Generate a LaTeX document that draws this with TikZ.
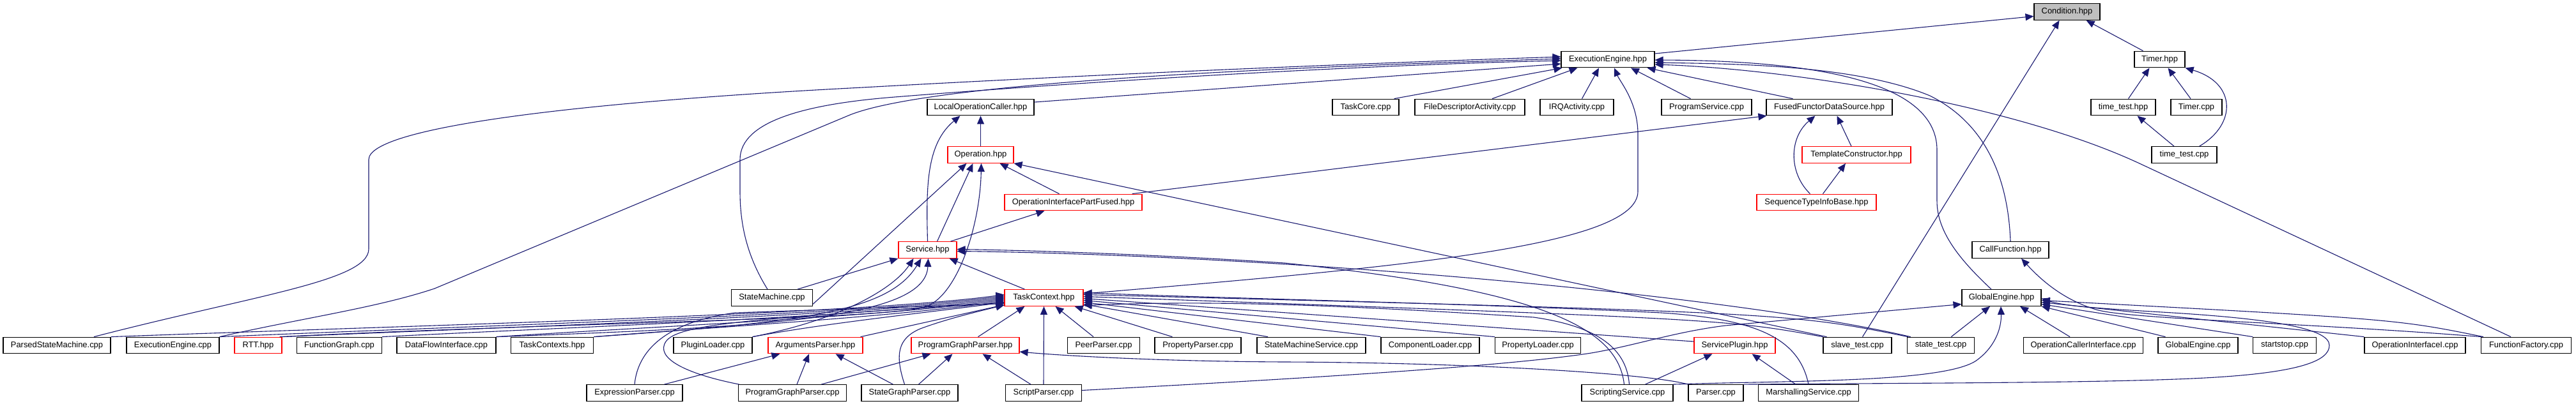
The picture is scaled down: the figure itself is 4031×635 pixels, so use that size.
\documentclass[tikz,border=0pt]{standalone}
\usepackage{fontspec}
\setmainfont{Liberation Sans}
\usetikzlibrary{arrows.meta,calc}
\definecolor{edgec}{RGB}{25,25,112}
\definecolor{redc}{RGB}{255,0,0}
\definecolor{grayc}{RGB}{191,191,191}
\begin{document}
\begin{tikzpicture}[x=1pt,y=-1pt,
  nbox/.style={draw=black, line width=1.1pt, minimum height=25.7pt, inner sep=0pt, fill=white, font=\fontsize{12.9}{15}\selectfont},
  rbox/.style={nbox, draw=redc},
  dep/.style={draw=edgec, line width=1.1pt, -{Triangle[length=13pt,width=11pt]}}]
\useasboundingbox (0,0) rectangle (4031,635);
% ---- nodes ----
\node[nbox, fill=grayc, minimum width=103pt] (cond) at (3234.5,18.5) {Condition.hpp};
\node[nbox, minimum width=79pt] (timerh) at (3379.5,93) {Timer.hpp};
\node[nbox, minimum width=146pt] (eeh) at (2516,93) {ExecutionEngine.hpp};
\node[nbox, minimum width=104pt] (taskcore) at (2137,168) {TaskCore.cpp};
\node[nbox, minimum width=172pt] (fdact) at (2300,168) {FileDescriptorActivity.cpp};
\node[nbox, minimum width=115pt] (irq) at (2467.5,168) {IRQActivity.cpp};
\node[nbox, minimum width=141pt] (progsvc) at (2670.5,168) {ProgramService.cpp};
\node[nbox, minimum width=197pt] (ffds) at (2862.5,168) {FusedFunctorDataSource.hpp};
\node[nbox, minimum width=101pt] (tthpp) at (3322.5,168) {time\_test.hpp};
\node[nbox, minimum width=80pt] (timercpp) at (3437,168) {Timer.cpp};
\node[nbox, minimum width=167pt] (loc) at (1534.5,168) {LocalOperationCaller.hpp};
\node[rbox, minimum width=103pt] (op) at (1534.5,242.5) {Operation.hpp};
\node[rbox, minimum width=170pt] (tmplc) at (2905,242.5) {TemplateConstructor.hpp};
\node[nbox, minimum width=102pt] (ttcpp) at (3418,242.5) {time\_test.cpp};
\node[rbox, minimum width=215pt] (opipf) at (1679.5,317) {OperationInterfacePartFused.hpp};
\node[rbox, minimum width=187pt] (stib) at (2842.5,317) {SequenceTypeInfoBase.hpp};
\node[rbox, minimum width=91pt] (svc) at (1451.5,391.5) {Service.hpp};
\node[nbox, minimum width=120pt] (callf) at (3146,391.5) {CallFunction.hpp};
\node[rbox, minimum width=123pt] (tc) at (1633.5,466.5) {TaskContext.hpp};
\node[nbox, minimum width=127pt] (sm) at (1208,466.5) {StateMachine.cpp};
\node[nbox, minimum width=124pt] (ge) at (3132,466.5) {GlobalEngine.hpp};
% row 7
\node[nbox, minimum width=168pt] (psm) at (89,541) {ParsedStateMachine.cpp};
\node[nbox, minimum width=145pt] (eecpp) at (270.5,541) {ExecutionEngine.cpp};
\node[rbox, minimum width=74pt] (rtt) at (404,541) {RTT.hpp};
\node[nbox, minimum width=132.5pt] (fg) at (531,541) {FunctionGraph.cpp};
\node[nbox, minimum width=155pt] (dfi) at (698.5,541) {DataFlowInterface.cpp};
\node[nbox, minimum width=129.5pt] (tcs) at (864,541) {TaskContexts.hpp};
\node[nbox, minimum width=123pt] (pl) at (1115.5,541) {PluginLoader.cpp};
\node[rbox, minimum width=148pt] (ap) at (1276,541) {ArgumentsParser.hpp};
\node[rbox, minimum width=169pt] (pgph) at (1510.5,541) {ProgramGraphParser.hpp};
\node[nbox, minimum width=112.5pt] (pp) at (1727,541) {PeerParser.cpp};
\node[nbox, minimum width=135pt] (propp) at (1874.5,541) {PropertyParser.cpp};
\node[nbox, minimum width=170pt] (sms) at (2052,541) {StateMachineService.cpp};
\node[nbox, minimum width=154pt] (cl) at (2238,541) {ComponentLoader.cpp};
\node[nbox, minimum width=134pt] (propl) at (2406.6,541) {PropertyLoader.cpp};
\node[rbox, minimum width=127pt] (splug) at (2714.5,541) {ServicePlugin.hpp};
\node[nbox, minimum width=107pt] (slave) at (2906.5,541) {slave\_test.cpp};
\node[nbox, minimum width=105.5pt] (state) at (3037,541) {state\_test.cpp};
\node[nbox, minimum width=187.5pt] (oci) at (3260,541) {OperationCallerInterface.cpp};
\node[nbox, minimum width=125pt] (gecpp) at (3439.5,541) {GlobalEngine.cpp};
\node[nbox, minimum width=98.5pt] (ss) at (3575,541) {startstop.cpp};
\node[nbox, minimum width=158pt] (oii) at (3779,541) {OperationInterfaceI.cpp};
\node[nbox, minimum width=141pt] (ff) at (3953,541) {FunctionFactory.cpp};
% row 8
\node[nbox, minimum width=150pt] (ep) at (993,615.5) {ExpressionParser.cpp};
\node[nbox, minimum width=169.5pt] (pgpc) at (1240,615.5) {ProgramGraphParser.cpp};
\node[nbox, minimum width=151pt] (sgp) at (1423.5,615.5) {StateGraphParser.cpp};
\node[nbox, minimum width=118.6pt] (scp) at (1633,615.5) {ScriptParser.cpp};
\node[nbox, minimum width=143pt] (scs) at (2546.5,615.5) {ScriptingService.cpp};
\node[nbox, minimum width=86pt] (parser) at (2685,615.5) {Parser.cpp};
\node[nbox, minimum width=157pt] (marsh) at (2830,615.5) {MarshallingService.cpp};
% ---- edges ----
% Condition
\draw[dep] ($(eeh.east)+(0,-9)$) -- ($(cond.west)+(0,7)$);
\draw[dep] ($(timerh.north west)+(14,0)$) -- ($(cond.south east)+(-22,0)$);
\draw[dep] ($(slave.north)+(8,0)$) -- ($(cond.south)+(-12,0)$);
% Timer
\draw[dep] ($(tthpp.north)+(8,0)$) -- ($(timerh.south west)+(24,0)$);
\draw[dep] ($(timercpp.north)+(-9,0)$) -- ($(timerh.south)+(13,0)$);
\draw[dep] ($(ttcpp.north east)+(-28,0)$) .. controls (3500,195) and (3500,130) .. (timerh.south east);
\draw[dep] ($(ttcpp.north)+(-16,0)$) -- ($(tthpp.south)+(22,0)$);
% ExecutionEngine.hpp
\draw[dep] ($(loc.east)+(0,-8)$) -- ($(eeh.west)+(0,7)$);
\draw[dep] ($(taskcore.north east)+(-8,0)$) -- ($(eeh.south west)+(2,0)$);
\draw[dep] ($(fdact.north)+(35,0)$) -- ($(eeh.south west)+(26,0)$);
\draw[dep] ($(irq.north)+(8,0)$) -- ($(eeh.south)+(-14,0)$);
\draw[dep] ($(progsvc.north)+(-25,0)$) -- ($(eeh.south)+(36,0)$);
\draw[dep] ($(ffds.north west)+(42,0)$) -- ($(eeh.south east)+(-12,0)$);
\draw[dep] ($(psm.north)+(58,0)$) .. controls (400,462) and (577,440) .. (577,390) -- (577,250) .. controls (577,200) and (900,160) .. (1350,137) .. controls (1800,112) and (2200,97) .. ($(eeh.west)+(0,-4)$);
\draw[dep] (eecpp.north east) .. controls (480,497) and (590,482) .. (680,452) -- (1330,180) .. controls (1480,120) and (2200,100) .. ($(eeh.west)+(0,-1)$);
\draw[dep] ($(sm.north)+(-7,0)$) .. controls (1168,400) and (1158,350) .. (1158,300) -- (1158,250) .. controls (1158,190) and (1260,163) .. (1400,152) .. controls (1800,120) and (2200,100) .. ($(eeh.west)+(0,2)$);
\draw[dep] ($(tc.north east)+(0,7)$) .. controls (2200,418) and (2563,385) .. (2563,300) -- (2563,210) .. controls (2563,160) and (2535,128) .. ($(eeh.south)+(10,0)$);
\draw[dep] ($(ge.north)+(-16,0)$) .. controls (3070,410) and (3031,365) .. (3031,315) -- (3031,235) .. controls (3031,130) and (2850,95) .. ($(eeh.east)+(0,1)$);
\draw[dep] (callf.north) .. controls (3143,300) and (3120,200) .. (3020,150) .. controls (2900,100) and (2700,100) .. ($(eeh.east)+(0,5)$);
\draw[dep] ($(ff.north)+(-24,0)$) -- (3350,257) .. controls (3150,163) and (2800,108) .. ($(eeh.east)+(0,8)$);
% FusedFunctorDataSource
\draw[dep] ($(opipf.north east)+(-16,0)$) -- ($(ffds.south west)+(1,0)$);
\draw[dep] ($(stib.north)+(-10,0)$) .. controls (2798,270) and (2800,215) .. ($(ffds.south)+(-22,0)$);
\draw[dep] ($(tmplc.north)+(-8,0)$) -- ($(ffds.south)+(12,0)$);
\draw[dep] ($(stib.north)+(10,0)$) -- ($(tmplc.south)+(-17,0)$);
% LocalOperationCaller / Operation
\draw[dep] (op.north) -- (loc.south);
\draw[dep] (svc.north) .. controls (1449,290) and (1450,225) .. ($(loc.south)+(-32,0)$);
\draw[dep] ($(svc.north)+(15,0)$) -- ($(op.south)+(-12,0)$);
\draw[dep] ($(opipf.north)+(-22,0)$) -- ($(op.south)+(30,0)$);
\draw[dep] ($(slave.north west)+(6,0)$) -- (op.south east);
\draw[dep] ($(sm.east)+(0,10)$) -- ($(op.south)+(-22,0)$);
\draw[dep] ($(rtt.north east)+(-4,0)$) .. controls (900,505) and (1400,500) .. (1450,480) .. controls (1500,460) and (1534,350) .. ($(op.south)+(1,0)$);
\draw[dep] ($(svc.north east)+(-10,0)$) -- ($(opipf.south)+(-45,0)$);
% Service
\draw[dep] ($(tc.north)+(-30,0)$) -- ($(svc.south east)+(-12,0)$);
\draw[dep] ($(sm.north east)+(-24,0)$) -- (svc.south west);
\draw[dep] (pl.north east) .. controls (1320,500) and (1400,450) .. ($(svc.south)+(-22,0)$);
\draw[dep] (tcs.north east) .. controls (1250,505) and (1390,490) .. ($(svc.south)+(-10,0)$);
\draw[dep] (dfi.north east) .. controls (1200,512) and (1448,500) .. ($(svc.south)+(1,0)$);
\draw[dep] ($(scs.north)+(-5,0)$) .. controls (2532,515) and (2420,455) .. (2010,412) .. controls (1800,398) and (1600,392) .. ($(svc.east)+(0,-1)$);
\draw[dep] ($(state.north west)+(6,0)$) .. controls (2700,460) and (2000,400) .. ($(svc.east)+(0,2)$);
% TaskContext bottom
\draw[dep] ($(pgph.north)+(20,0)$) -- ($(tc.south west)+(32,0)$);
\draw[dep] (scp.north) -- (tc.south);
\draw[dep] ($(pp.north)+(-16,0)$) -- ($(tc.south)+(18,0)$);
\draw[dep] ($(propp.north)+(-40,0)$) -- ($(tc.south east)+(-14,0)$);
% TaskContext right
\draw[dep] ($(sms.north)+(-68,0)$) -- ($(tc.east)+(0,10)$);
\draw[dep] (cl.north west) -- ($(tc.east)+(0,7)$);
\draw[dep] (propl.north west) -- ($(tc.east)+(0,4)$);
\draw[dep] ($(splug.west)+(0,-6)$) -- ($(tc.east)+(0,1)$);
\draw[dep] (slave.north west) .. controls (2700,500) .. ($(tc.east)+(0,-2)$);
\draw[dep] ($(state.north west)+(2,0)$) .. controls (2800,490) .. ($(tc.east)+(0,-5)$);
\draw[dep] (marsh.north) .. controls (2815,530) and (2750,500) .. (2600,490) .. controls (2300,475) and (1900,467) .. ($(tc.east)+(0,-8)$);
\draw[dep] ($(scs.north)+(3,0)$) .. controls (2545,540) and (2490,510) .. (2400,497) .. controls (2100,478) and (1900,470) .. ($(tc.east)+(0,12)$);
% TaskContext left
\draw[dep] (psm.north east) .. controls (700,508) and (1350,492) .. ($(tc.west)+(0,-5)$);
\draw[dep] (eecpp.north east) .. controls (800,508) and (1350,493) .. ($(tc.west)+(0,-3)$);
\draw[dep] (rtt.north east) .. controls (850,510) and (1360,494) .. ($(tc.west)+(0,-1)$);
\draw[dep] (fg.north east) .. controls (950,510) and (1370,495) .. ($(tc.west)+(0,1)$);
\draw[dep] (dfi.north east) .. controls (1050,510) and (1380,496) .. ($(tc.west)+(0,3)$);
\draw[dep] (tcs.north east) .. controls (1150,510) and (1390,497) .. ($(tc.west)+(0,5)$);
\draw[dep] (pl.north east) .. controls (1300,505) and (1450,490) .. ($(tc.west)+(0,7)$);
\draw[dep] ($(ap.north east)+(-4,0)$) -- ($(tc.west)+(0,11)$);
\draw[dep] (ep.north) .. controls (998,550) and (1040,505) .. (1150,490) -- ($(tc.west)+(0,9)$);
\draw[dep] ($(pgpc.north west)+(2,0)$) .. controls (1070,585) and (1025,560) .. (1042,535) .. controls (1060,510) and (1150,500) .. ($(tc.west)+(0,8)$);
\draw[dep] ($(sgp.north)+(-8,0)$) .. controls (1400,555) and (1405,530) .. (1440,515) .. controls (1480,500) and (1530,488) .. ($(tc.south west)+(0,-2)$);
% ArgumentsParser / ProgramGraphParser.hpp
\draw[dep] ($(ep.north east)+(-29,0)$) -- ($(ap.south west)+(19,0)$);
\draw[dep] ($(pgpc.north)+(7,0)$) -- ($(ap.south)+(-10,0)$);
\draw[dep] ($(sgp.north west)+(50,0)$) -- ($(ap.south east)+(-43,0)$);
\draw[dep] ($(pgpc.north east)+(-40,0)$) -- ($(pgph.south west)+(31,0)$);
\draw[dep] ($(sgp.north)+(14,0)$) -- ($(pgph.south)+(-20,0)$);
\draw[dep] ($(scp.north)+(-20,0)$) -- ($(pgph.south)+(27,0)$);
\draw[dep] (parser.north west) .. controls (2580,585) and (2300,568) .. (2010,567) .. controls (1800,566) and (1650,556) .. ($(pgph.east)+(0,10)$);
% ServicePlugin
\draw[dep] ($(scs.north east)+(-44,0)$) -- ($(splug.south west)+(29,0)$);
\draw[dep] ($(marsh.north)+(-20,0)$) -- ($(splug.south east)+(-37,0)$);
% GlobalEngine.hpp
\draw[dep] ($(scp.east)+(0,-4)$) .. controls (2000,595) and (2350,575) .. (2490,553) .. controls (2560,541) and (2620,520) .. (2700,510) -- ($(ge.west)+(0,10)$);
\draw[dep] ($(state.north east)+(-37,0)$) -- ($(ge.south)+(-18,0)$);
\draw[dep] ($(oci.north)+(-21,0)$) -- ($(ge.south)+(29,0)$);
\draw[dep] ($(scs.north east)+(-1,0)$) .. controls (2800,596) and (3050,600) .. (3095,563) .. controls (3125,540) and (3132,510) .. ($(ge.south)+(-1,0)$);
\draw[dep] ($(gecpp.north west)+(12,0)$) -- (ge.south east);
\draw[dep] (ss.north west) -- ($(ge.east)+(0,10)$);
\draw[dep] (oii.north west) -- ($(ge.east)+(0,7)$);
\draw[dep] ($(ff.north west)+(4,0)$) .. controls (3750,500) .. ($(ge.east)+(0,4)$);
\draw[dep] ($(ff.north west)+(1,0)$) .. controls (3600,505) and (3330,500) .. (3280,485) .. controls (3230,470) and (3195,440) .. ($(callf.south)+(17,0)$);
\draw[dep] (parser.north east) .. controls (3000,600) and (3300,600) .. (3450,592) .. controls (3600,584) and (3645,565) .. (3645,541) .. controls (3645,515) and (3560,500) .. (3400,490) .. controls (3300,484) and (3230,480) .. ($(ge.east)+(0,1)$);
\end{tikzpicture}
\end{document}
